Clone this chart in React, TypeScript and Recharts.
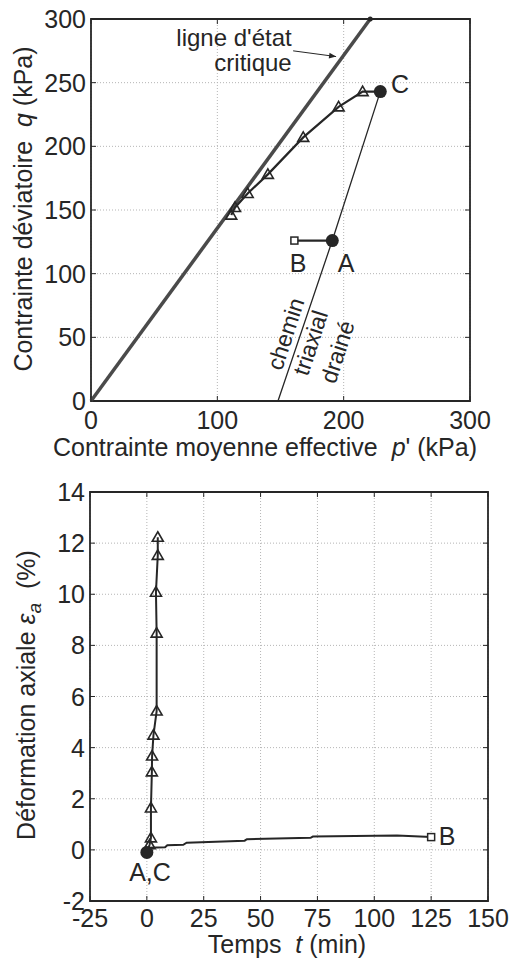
import React from 'react'
import { ComposedChart, Line, XAxis, YAxis, CartesianGrid, ReferenceArea } from 'recharts'

// --- plan p'-q (kPa) ---
const cslP = [0, 221]
const cslQ = [0, 300]
const drainedP = [148, 191, 229]
const drainedQ = [0, 126, 243]
const creepP = [161, 191]
const creepQ = [126, 126]
const shearP = [229, 215, 196, 168, 140, 124, 114, 111]
const shearQ = [243, 243, 231, 207, 178, 163, 152, 146]
const arrowP = [160, 194]
const arrowQ = [275, 270.5]
const pTicks = [0, 100, 200, 300]
const qTicks = [0, 50, 100, 150, 200, 250, 300]

// --- temps - déformation axiale ---
const creepT = [0, 1, 8, 9, 16, 17.5, 43, 44, 72, 73, 110, 125]
const creepEps = [-0.1, 0.08, 0.1, 0.18, 0.2, 0.28, 0.36, 0.42, 0.47, 0.52, 0.56, 0.5]
const shearT = [0, 1.2, 1.8, 1.8, 2.2, 2.3, 2.9, 4.3, 4.3, 4.0, 4.8, 4.8]
const shearEps = [-0.1, 0.2, 0.47, 1.64, 3.05, 3.67, 4.49, 5.43, 8.48, 10.08, 11.52, 12.23]
const tTicks = [-25, 0, 25, 50, 75, 100, 125, 150]
const epsTicks = [-2, 0, 2, 4, 6, 8, 10, 12, 14]

const zip = (xs: number[], ys: number[]) => xs.map((x, i) => ({ x, y: ys[i] }))

const INK = '#262626'
const FONT = '"Liberation Sans", Arial, sans-serif'

const Tri = (p: any) => (
  <path
    key={`t${p.index}`}
    d={`M${p.cx},${p.cy - 5.5} L${p.cx + 5.5},${p.cy + 4} L${p.cx - 5.5},${p.cy + 4} Z`}
    fill="none"
    stroke={INK}
    strokeWidth={1.6}
  />
)
const Disc = (p: any) => <circle key={`c${p.index}`} cx={p.cx} cy={p.cy} r={6.5} fill={INK} />
const Sq = (p: any) => (
  <rect key={`s${p.index}`} x={p.cx - 3.5} y={p.cy - 3.5} width={7} height={7} fill="#fff" stroke={INK} strokeWidth={1.5} />
)
const Nothing = (p: any) => <g key={`n${p.index}`} />

const shearDot = (p: any) => (p.index === 0 ? Disc(p) : Tri(p))
const creepDot = (last: number) => (p: any) => (p.index === last ? Sq(p) : Nothing(p))
const cslDot = (p: any) =>
  p.index === 1 ? <circle key="csl" cx={p.cx} cy={p.cy} r={2.5} fill={INK} /> : Nothing(p)

const xTick = (plotH: number, dy: number) => (props: any) => {
  const { x, y, payload } = props
  return (
    <g>
      <line x1={x} y1={y} x2={x} y2={y - 5} stroke={INK} />
      <line x1={x} y1={y - plotH} x2={x} y2={y - plotH + 5} stroke={INK} />
      <text x={x} y={y + dy} textAnchor="middle" fontSize={25} fill={INK} fontFamily={FONT}>
        {payload.value}
      </text>
    </g>
  )
}
const yTick = (plotW: number) => (props: any) => {
  const { x, y, payload } = props
  return (
    <g>
      <line x1={x} y1={y} x2={x + 5} y2={y} stroke={INK} />
      <line x1={x + plotW - 5} y1={y} x2={x + plotW} y2={y} stroke={INK} />
      <text x={x - 5} y={y + 9} textAnchor="end" fontSize={25} fill={INK} fontFamily={FONT}>
        {payload.value}
      </text>
    </g>
  )
}

const txt = (left: number, top: number, content: React.ReactNode, size = 25, rot = 0) => (
  <div
    style={{
      position: 'absolute',
      left,
      top,
      transform: `translate(-50%, -50%) rotate(${rot}deg)`,
      fontSize: size,
      lineHeight: 1,
      whiteSpace: 'nowrap',
      color: INK,
      fontFamily: FONT,
    }}
  >
    {content}
  </div>
)

export default function App() {
  return (
    <div style={{ position: 'absolute', left: 0, top: 0, width: 509, height: 958, background: '#fff', fontFamily: FONT }}>
      <svg width={0} height={0} style={{ position: 'absolute' }}>
        <defs>
          <marker id="arrowHead" viewBox="0 0 10 10" refX={10} refY={5} markerWidth={11} markerHeight={7} orient="auto" markerUnits="userSpaceOnUse">
            <path d="M0,1 L10,5 L0,9 Z" fill={INK} />
          </marker>
        </defs>
      </svg>

      {/* p'-q */}
      <div style={{ position: 'absolute', left: 0, top: 0 }}>
        <ComposedChart width={509} height={450} margin={{ top: 19, right: 39, bottom: 19, left: 31 }}>
          <CartesianGrid stroke="#b5b5b5" strokeDasharray="1 2" />
          <XAxis
            type="number"
            dataKey="x"
            domain={[0, 300]}
            ticks={pTicks}
            interval={0}
            height={30}
            axisLine={false}
            tickLine={false}
            tickSize={0}
            tickMargin={0}
            tick={xTick(382, 28)}
          />
          <YAxis
            type="number"
            dataKey="y"
            domain={[0, 300]}
            ticks={qTicks}
            interval={0}
            width={60}
            axisLine={false}
            tickLine={false}
            tickSize={0}
            tickMargin={0}
            tick={yTick(379)}
          />
          <ReferenceArea x1={0} x2={300} y1={0} y2={300} fill="none" stroke={INK} strokeWidth={1.8} />
          <Line data={zip(cslP, cslQ)} dataKey="y" stroke="#4a4a4a" strokeWidth={3.5} dot={cslDot} isAnimationActive={false} />
          <Line data={zip(drainedP, drainedQ)} dataKey="y" stroke={INK} strokeWidth={1.3} dot={false} isAnimationActive={false} />
          <Line data={zip(arrowP, arrowQ)} dataKey="y" stroke={INK} strokeWidth={1} dot={false} markerEnd="url(#arrowHead)" isAnimationActive={false} />
          <Line data={zip(creepP, creepQ)} dataKey="y" stroke={INK} strokeWidth={2.2} dot={creepDot(0)} isAnimationActive={false} />
          <Line data={zip(shearP, shearQ)} dataKey="y" stroke={INK} strokeWidth={2.2} dot={shearDot} isAnimationActive={false} />
          <Line data={zip([191], [126])} dataKey="y" stroke="none" dot={Disc} isAnimationActive={false} />
        </ComposedChart>
      </div>

      {/* temps - déformation */}
      <div style={{ position: 'absolute', left: 0, top: 450 }}>
        <ComposedChart width={509} height={508} margin={{ top: 42, right: 21, bottom: 17, left: 30 }}>
          <CartesianGrid stroke="#b5b5b5" strokeDasharray="1 2" />
          <XAxis
            type="number"
            dataKey="x"
            domain={[-25, 150]}
            ticks={tTicks}
            interval={0}
            height={40}
            axisLine={false}
            tickLine={false}
            tickSize={0}
            tickMargin={0}
            tick={xTick(409, 26)}
          />
          <YAxis
            type="number"
            dataKey="y"
            domain={[-2, 14]}
            ticks={epsTicks}
            interval={0}
            width={60}
            axisLine={false}
            tickLine={false}
            tickSize={0}
            tickMargin={0}
            tick={yTick(398)}
          />
          <ReferenceArea x1={-25} x2={150} y1={-2} y2={14} fill="none" stroke={INK} strokeWidth={1.8} />
          <Line data={zip(creepT, creepEps)} dataKey="y" stroke={INK} strokeWidth={2} dot={creepDot(creepT.length - 1)} isAnimationActive={false} />
          <Line data={zip(shearT, shearEps)} dataKey="y" stroke={INK} strokeWidth={2} dot={shearDot} isAnimationActive={false} />
        </ComposedChart>
      </div>

      {/* textes */}
      {txt(23, 209, <span>Contrainte déviatoire&nbsp; <i>q</i> (kPa)</span>, 25, -90)}
      {txt(265, 447, <span>Contrainte moyenne effective&nbsp; <i>p</i>' (kPa)</span>)}
      {txt(234, 38, 'ligne d\'état', 24)}
      {txt(253, 63, 'critique', 24)}
      {txt(400, 84, 'C', 25)}
      {txt(298, 263, 'B', 25)}
      {txt(346, 263, 'A', 25)}
      {txt(286, 334, 'chemin', 23, -72)}
      {txt(311, 343, 'triaxial', 23, -72)}
      {txt(338, 352, 'drainé', 23, -72)}

      {txt(29, 695, <span>Déformation axiale <i>ε</i><sub style={{ fontSize: 19 }}><i>a</i></sub>&nbsp; (%)</span>, 25, -90)}
      {txt(287, 944, <span>Temps&nbsp; <i>t</i> (min)</span>)}
      {txt(150, 872, 'A,C', 25)}
      {txt(447, 836, 'B', 25)}
    </div>
  )
}
